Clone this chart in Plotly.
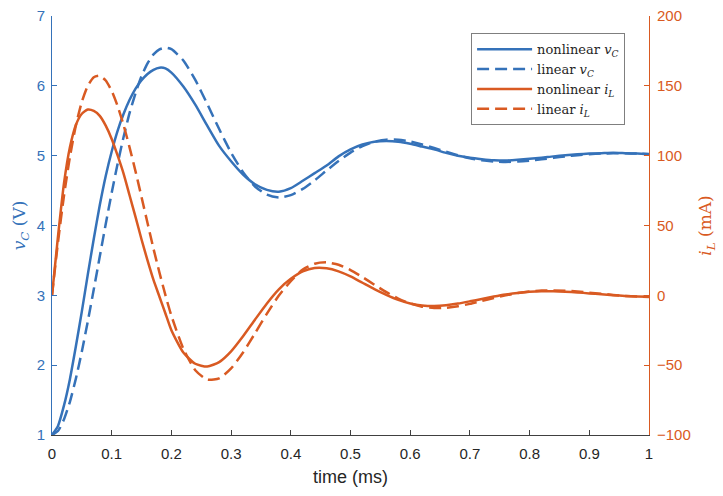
import plotly.graph_objects as go

# time (ms)
t = [0, 0.01, 0.02, 0.03, 0.04, 0.05, 0.06, 0.07, 0.08, 0.09, 0.10,
     0.11, 0.12, 0.13, 0.14, 0.15, 0.16, 0.17, 0.18, 0.19, 0.20,
     0.22, 0.24, 0.26, 0.28, 0.30, 0.32, 0.34, 0.36, 0.38, 0.40,
     0.42, 0.44, 0.46, 0.48, 0.50, 0.52, 0.54, 0.56, 0.58, 0.60,
     0.62, 0.64, 0.66, 0.68, 0.70, 0.72, 0.74, 0.76, 0.78, 0.80,
     0.82, 0.84, 0.86, 0.88, 0.90, 0.92, 0.94, 0.96, 0.98, 1.00]

# nonlinear v_C (V)
vc_nonlinear = [1.00, 1.13, 1.42, 1.80, 2.27, 2.77, 3.30, 3.81, 4.29, 4.71, 5.06,
                5.36, 5.60, 5.80, 5.96, 6.08, 6.17, 6.23, 6.26, 6.25, 6.19,
                5.99, 5.73, 5.43, 5.14, 4.92, 4.73, 4.59, 4.51, 4.485, 4.535,
                4.64, 4.75, 4.86, 4.99, 5.09, 5.16, 5.20, 5.21, 5.20, 5.17,
                5.13, 5.09, 5.04, 5.00, 4.97, 4.95, 4.935, 4.93, 4.94, 4.955,
                4.97, 4.99, 5.005, 5.02, 5.03, 5.035, 5.04, 5.035, 5.03, 5.02]

# linear v_C (V)
vc_linear = [1.000, 1.057, 1.222, 1.476, 1.807, 2.197, 2.628, 3.087, 3.555, 4.020, 4.468,
             4.888, 5.272, 5.612, 5.898, 6.139, 6.321, 6.451, 6.523, 6.546, 6.525,
             6.363, 6.084, 5.741, 5.381, 5.043, 4.764, 4.559, 4.441, 4.402, 4.435,
             4.524, 4.648, 4.788, 4.924, 5.044, 5.137, 5.200, 5.229, 5.228, 5.204,
             5.161, 5.110, 5.056, 5.005, 4.964, 4.933, 4.916, 4.910, 4.916, 4.929,
             4.948, 4.969, 4.989, 5.007, 5.021, 5.030, 5.034, 5.034, 5.030, 5.024]

# nonlinear i_L (mA)
il_nonlinear = [0, 42, 80, 106, 122, 130, 133, 132, 128.5, 121.5, 112,
                100, 87, 71.5, 56, 40, 25, 11, -1, -13, -25,
                -41, -49, -51, -47.8, -40.1, -29.3, -17.4, -5.8, 4.3, 11.8,
                17.1, 19.6, 19.4, 17.2, 13.6, 9.0, 4.4, 0.3, -3.3, -5.8,
                -7.2, -7.6, -7.1, -5.9, -4.3, -2.6, -0.9, 0.6, 1.7, 2.5,
                2.9, 2.9, 2.6, 2.1, 1.4, 0.7, 0.1, -0.4, -0.8, -1.0]

# linear i_L (mA)
il_linear = [0, 37.9, 71.1, 99.1, 121.7, 138.6, 150.0, 156.2, 157.2, 153.8, 146.3,
             135.4, 121.7, 105.8, 88.6, 70.3, 51.8, 33.4, 16.3, 0.1, -14.6,
             -38.2, -53.6, -60.3, -59.5, -52.3, -40.9, -27.2, -13.1, -0.1, 10.1,
             18.4, 22.6, 23.6, 21.9, 18.1, 13.1, 7.6, 2.3, -2.3, -5.8,
             -8.1, -9.1, -8.9, -7.8, -6.1, -4.0, -1.9, 0.0, 1.6, 2.8,
             3.4, 3.5, 3.3, 2.7, 1.9, 1.1, 0.3, -0.4, -0.9, -1.2]

x_ticks = [0, 0.1, 0.2, 0.3, 0.4, 0.5, 0.6, 0.7, 0.8, 0.9, 1]
x_ticklabels = ["0", "0.1", "0.2", "0.3", "0.4", "0.5", "0.6", "0.7", "0.8", "0.9", "1"]
yl_ticks = [1, 2, 3, 4, 5, 6, 7]
yr_ticks = [-100, -50, 0, 50, 100, 150, 200]

BLUE = "#3572B9"
ORANGE = "#D95A22"
AXIS_GRAY = "#404040"
SERIF = "DejaVu Serif, Liberation Serif, serif"
SANS = "Liberation Sans, Arial, Helvetica, sans-serif"

fig = go.Figure()
fig.add_trace(go.Scatter(x=t, y=vc_nonlinear, mode="lines", yaxis="y",
                         name="nonlinear <i>v<sub>C</sub></i>",
                         line=dict(color=BLUE, width=2.5, shape="spline", smoothing=0.6)))
fig.add_trace(go.Scatter(x=t, y=vc_linear, mode="lines", yaxis="y",
                         name="linear <i>v<sub>C</sub></i>",
                         line=dict(color=BLUE, width=2.5, dash="12px,6px", shape="spline", smoothing=0.6)))
fig.add_trace(go.Scatter(x=t, y=il_nonlinear, mode="lines", yaxis="y2",
                         name="nonlinear <i>i<sub>L</sub></i>",
                         line=dict(color=ORANGE, width=2.5, shape="spline", smoothing=0.6)))
fig.add_trace(go.Scatter(x=t, y=il_linear, mode="lines", yaxis="y2",
                         name="linear <i>i<sub>L</sub></i>",
                         line=dict(color=ORANGE, width=2.5, dash="12px,6px", shape="spline", smoothing=0.6)))

fig.update_layout(
    width=723, height=496,
    margin=dict(l=52, r=74, t=16, b=61, autoexpand=False),
    paper_bgcolor="white", plot_bgcolor="white",
    font=dict(family=SANS, size=15, color="#262626"),
    showlegend=True,
    hovermode=False,
    xaxis=dict(range=[0, 1], tickvals=x_ticks, ticktext=x_ticklabels, automargin=False,
               ticks="inside", ticklen=5, tickwidth=1, tickcolor=AXIS_GRAY,
               showline=True, linecolor=AXIS_GRAY, linewidth=1,
               showgrid=False, zeroline=False, ticklabelstandoff=5,
               tickfont=dict(family=SANS, size=15, color="#262626"),
               title=dict(text="time (ms)", font=dict(family=SANS, size=18, color="#262626"),
                          standoff=9)),
    yaxis=dict(range=[1, 7], tickvals=yl_ticks, ticks="inside", ticklen=5, tickwidth=1,
               automargin=False, ticklabelstandoff=3,
               tickcolor=BLUE, showline=True, linecolor=BLUE, linewidth=1,
               showgrid=False, zeroline=False,
               tickfont=dict(family=SANS, size=15, color=BLUE),
               title=dict(text="<i>v<sub>C</sub></i> (V)",
                          font=dict(family=SERIF, size=17, color=BLUE), standoff=6)),
    yaxis2=dict(range=[-100, 200], tickvals=yr_ticks, overlaying="y", side="right",
                anchor="x", ticks="inside", ticklen=5, tickwidth=1,
                automargin=False, ticklabelstandoff=4,
                tickcolor=ORANGE, showline=True, linecolor=ORANGE, linewidth=1,
                showgrid=False, zeroline=False,
                tickfont=dict(family=SANS, size=15, color=ORANGE),
                title=dict(text="<i>i<sub>L</sub></i> (mA)",
                           font=dict(family=SERIF, size=17, color=ORANGE), standoff=9)),
    legend=dict(x=0.702, y=0.959, xanchor="left", yanchor="top",
                bgcolor="white", bordercolor="#7f7f7f", borderwidth=1,
                font=dict(family=SERIF, size=13, color="#262626"),
                itemwidth=55, tracegroupgap=0),
)

fig.write_html("out.html",
               config={"displayModeBar": False, "staticPlot": True},
               post_script="document.body.style.margin='0';document.body.style.padding='0';")
